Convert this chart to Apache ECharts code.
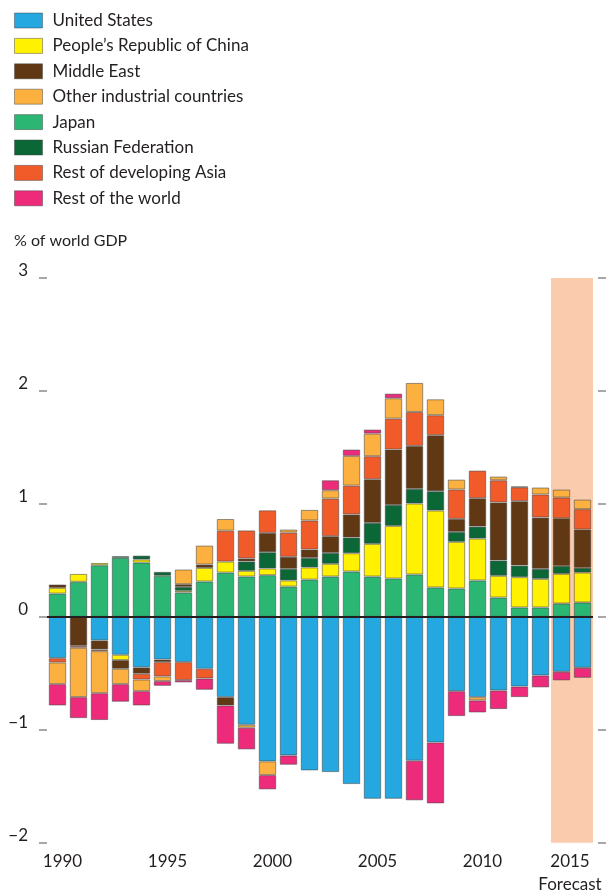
<!DOCTYPE html>
<html>
<head>
<meta charset="utf-8">
<title>Current account balances, % of world GDP</title>
<script src="https://cdn.jsdelivr.net/npm/echarts@6/dist/echarts.min.js"></script>
<style>
  html, body { margin: 0; padding: 0; background: #fff; }
  #chart { width: 612px; height: 894px; }
</style>
</head>
<body>
<div id="chart"></div>
<script>
const years = ['1990', '1991', '1992', '1993', '1994', '1995', '1996', '1997', '1998', '1999',
  '2000', '2001', '2002', '2003', '2004', '2005', '2006', '2007', '2008', '2009',
  '2010', '2011', '2012', '2013', '2014', '2015']
const labelYears = ['1990', '1995', '2000', '2005', '2010', '2015']
const forecastYears = ['2014', '2015']

// % of world GDP, 0 = no segment
const unitedStates = [-0.366, 0, -0.209, -0.336, -0.448, -0.378, -0.401, -0.46, -0.711, -0.956,
  -1.28, -1.227, -1.36, -1.375, -1.481, -1.611, -1.611, -1.274, -1.112, -0.658,
  -0.711, -0.652, -0.617, -0.519, -0.487, -0.451]
const japan = [0.206, 0.31, 0.457, 0.522, 0.48, 0.363, 0.215, 0.313, 0.392, 0.357,
  0.369, 0.268, 0.33, 0.357, 0.401, 0.357, 0.339, 0.375, 0.26, 0.251,
  0.322, 0.171, 0.083, 0.083, 0.118, 0.127]
const china = [0.05, 0.07, 0.02, -0.047, 0.027, 0, 0.015, 0.12, 0.097, 0.05,
  0.059, 0.054, 0.107, 0.112, 0.162, 0.289, 0.466, 0.628, 0.681, 0.413,
  0.371, 0.192, 0.268, 0.253, 0.263, 0.265]
const russia = [0, 0, 0, 0.015, 0.035, 0.035, 0.035, 0, 0, 0.083,
  0.144, 0.103, 0.085, 0.097, 0.139, 0.186, 0.186, 0.13, 0.171, 0.088,
  0.106, 0.136, 0.103, 0.089, 0.07, 0.042]
const middleEast = [0.03, -0.257, -0.08, -0.077, -0.056, -0.023, 0.024, 0.03, -0.074, 0.027,
  0.171, 0.106, 0.074, 0.148, 0.204, 0.386, 0.49, 0.38, 0.496, 0.115,
  0.251, 0.513, 0.57, 0.454, 0.422, 0.339]
const devAsia = [-0.038, -0.017, -0.015, 0, -0.051, -0.127, -0.159, -0.086, 0.274, 0.248,
  0.2, 0.215, 0.257, 0.333, 0.256, 0.204, 0.274, 0.301, 0.177, 0.26,
  0.245, 0.197, 0.123, 0.204, 0.183, 0.18]
const otherIndustrial = [-0.192, -0.437, -0.372, -0.136, -0.103, -0.041, 0.13, 0.168, 0.103, -0.026,
  -0.121, 0.027, 0.094, 0.074, 0.263, 0.2, 0.18, 0.257, 0.141, 0.088,
  -0.029, 0.033, 0.006, 0.062, 0.071, 0.085]
const restOfWorld = [-0.189, -0.186, -0.238, -0.156, -0.127, -0.042, -0.021, -0.1, -0.339, -0.192,
  -0.127, -0.083, 0, 0.088, 0.056, 0.036, 0.041, -0.351, -0.54, -0.221,
  -0.107, -0.165, -0.094, -0.106, -0.076, -0.089]

const legendOrder = ['United States', "People’s Republic of China", 'Middle East',
  'Other industrial countries', 'Japan', 'Russian Federation', 'Rest of developing Asia', 'Rest of the world']

// stacking order (bottom up from zero on both sides)
const stackSeries = [
  { name: 'United States', data: unitedStates, color: '#25a7df' },
  { name: 'Japan', data: japan, color: '#2bb673' },
  { name: "People’s Republic of China", data: china, color: '#fff100' },
  { name: 'Russian Federation', data: russia, color: '#0c6737' },
  { name: 'Middle East', data: middleEast, color: '#603813' },
  { name: 'Rest of developing Asia', data: devAsia, color: '#f15a29' },
  { name: 'Other industrial countries', data: otherIndustrial, color: '#fbb040' },
  { name: 'Rest of the world', data: restOfWorld, color: '#ee2a7b' }
]

const textColor = '#231f20'
const fontFamily = 'Lato, "Open Sans", sans-serif'

const chart = echarts.init(document.getElementById('chart'), null, { renderer: 'canvas' })

const series = stackSeries.map(s => ({
  name: s.name,
  type: 'bar',
  stack: 'total',
  barCategoryGap: '17%',
  data: s.data.map(v => (v === 0 ? '-' : v)),
  itemStyle: {
    color: s.color,
    borderColor: 'rgba(70, 70, 70, 0.55)',
    borderWidth: 1
  },
  emphasis: { disabled: true }
}))

// forecast band + zero line, drawn on a hidden value axis so the band covers whole categories
series.push({
  name: 'helper',
  type: 'line',
  xAxisIndex: 1,
  data: [],
  silent: true,
  markArea: {
    silent: true,
    itemStyle: { color: '#fbcbae' },
    data: [[
      { xAxis: years.indexOf(forecastYears[0]) },
      { xAxis: years.indexOf(forecastYears[forecastYears.length - 1]) + 1 }
    ]]
  },
  markLine: {
    silent: true,
    symbol: ['none', 'none'],
    label: { show: false },
    lineStyle: { color: textColor, width: 2, type: 'solid' },
    data: [{ yAxis: 0 }]
  }
})

const option = {
  animation: false,
  textStyle: { fontFamily: fontFamily },
  title: {
    text: '% of world GDP',
    left: 14,
    top: 233,
    padding: 0,
    textStyle: { fontSize: 16, fontWeight: 'normal', color: textColor, fontFamily: fontFamily }
  },
  legend: {
    data: legendOrder,
    orient: 'vertical',
    left: 14,
    top: 12,
    padding: 0,
    itemWidth: 28,
    itemHeight: 15,
    itemGap: 8.4,
    icon: 'rect',
    selectedMode: false,
    itemStyle: { borderColor: 'rgba(60, 60, 60, 0.45)', borderWidth: 1 },
    textStyle: { fontSize: 17, color: textColor, fontFamily: fontFamily, padding: [0, 0, 0, 5] }
  },
  grid: {
    left: 47,
    right: 19,
    top: 278,
    bottom: 51.3,
    containLabel: false,
    outerBoundsMode: 'none'
  },
  xAxis: [
    {
      type: 'category',
      data: years,
      axisLine: { show: false, onZero: false },
      axisTick: { show: false },
      axisLabel: {
        interval: (i, v) => labelYears.includes(v),
        margin: 7,
        hideOverlap: false,
        formatter: v => (v === '2015' ? '{f|2015}\n{f|Forecast}' : '{y|' + v + '}'),
        rich: {
          y: { fontSize: 17, color: textColor, fontFamily: fontFamily, lineHeight: 23, padding: [0, 0, 0, 10] },
          f: { fontSize: 17, color: textColor, fontFamily: fontFamily, lineHeight: 23, padding: [0, 25, 0, 0], align: 'center' }
        }
      }
    },
    {
      type: 'value',
      min: 0,
      max: years.length,
      show: false
    }
  ],
  yAxis: [
    {
      type: 'value',
      min: -2,
      max: 3,
      interval: 1,
      offset: 5,
      axisLine: { show: false },
      axisTick: { show: true, length: 8, lineStyle: { color: '#8a8a8a', width: 1.5 } },
      splitLine: { show: false },
      axisLabel: {
        margin: 14,
        fontSize: 17,
        color: textColor,
        fontFamily: fontFamily,
        verticalAlign: 'bottom',
        lineHeight: 14,
        formatter: v => (v < 0 ? '−' + Math.abs(v) : String(v))
      }
    },
    {
      type: 'value',
      position: 'right',
      min: -2,
      max: 3,
      interval: 1,
      offset: 5,
      axisLine: { show: false },
      axisTick: { show: true, length: 8, lineStyle: { color: '#8a8a8a', width: 1.5 } },
      splitLine: { show: false },
      axisLabel: { show: false }
    }
  ],
  series: series
}

chart.setOption(option)

window.addEventListener('resize', () => {
  chart.resize()
})
</script>
</body>
</html>
